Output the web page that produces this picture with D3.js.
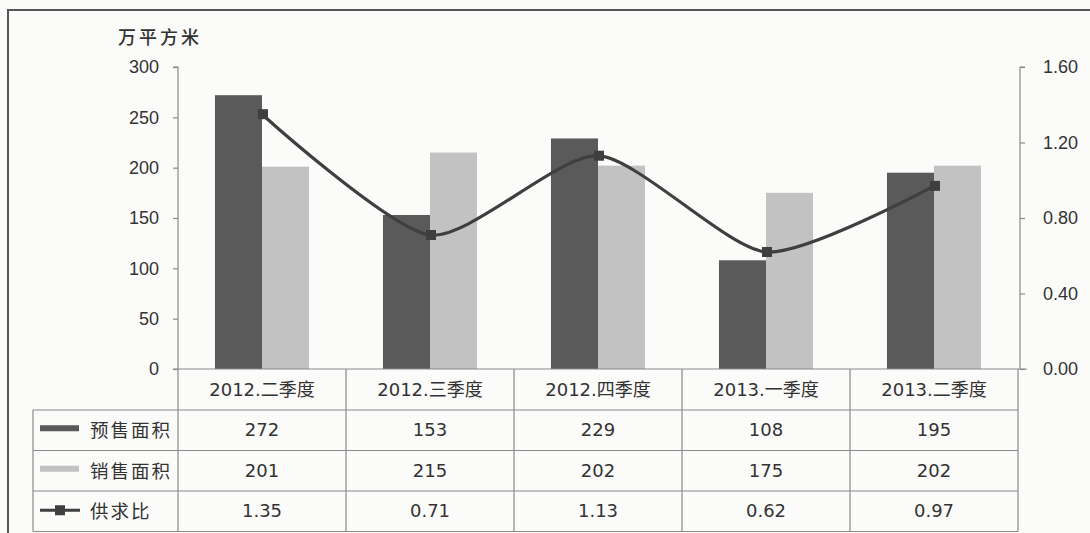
<!DOCTYPE html>
<html>
<head>
<meta charset="utf-8">
<script src="https://cdn.jsdelivr.net/npm/d3@7/dist/d3.min.js"></script>
<style>
  html, body { margin: 0; padding: 0; background: #fbfbfa; }
  svg { display: block; font-family: "DejaVu Sans", "Noto Sans CJK SC", sans-serif; }
</style>
</head>
<body>
<svg id="chart" width="1090" height="533"></svg>
<script>
// Quarterly presale vs. sales area (万平方米) and supply/demand ratio
const categories = ["2012.二季度", "2012.三季度", "2012.四季度", "2013.一季度", "2013.二季度"];
const presaleArea = [272, 153, 229, 108, 195];
const salesArea = [201, 215, 202, 175, 202];
const supplyRatio = [1.35, 0.71, 1.13, 0.62, 0.97];
const leftTicks = [0, 50, 100, 150, 200, 250, 300];
const rightTicks = [0, 0.4, 0.8, 1.2, 1.6];
const seriesNames = ["预售面积", "销售面积", "供求比"];

const darkGray = "#5a5a5a";
const lightGray = "#c2c2c2";
const lineColor = "#3f3f3f";
const textColor = "#333";
const ruleColor = "#8a8a8a";

const svg = d3.select("#chart");
const plot = { left: 178, right: 1018, top: 67, bottom: 369 };

// outer frame
svg.append("path")
  .attr("d", "M8,533 L8,10 L1090,10")
  .attr("fill", "none").attr("stroke", "#555").attr("stroke-width", 2);

const x = d3.scaleBand().domain(categories).range([plot.left, plot.right]);
const xInner = d3.scaleBand().domain(["presale", "sales"])
  .range([x.bandwidth() * 0.22, x.bandwidth() * 0.78]);
const yL = d3.scaleLinear().domain([0, 300]).range([plot.bottom, plot.top]);
const yR = d3.scaleLinear().domain([0, 1.6]).range([plot.bottom, plot.top]);

// bars
const groups = svg.append("g").selectAll("g").data(categories).join("g")
  .attr("transform", d => `translate(${x(d)},0)`);
groups.append("rect")
  .attr("x", xInner("presale")).attr("width", xInner.bandwidth())
  .attr("y", (d, i) => yL(presaleArea[i]))
  .attr("height", (d, i) => yL(0) - yL(presaleArea[i]))
  .attr("fill", darkGray);
groups.append("rect")
  .attr("x", xInner("sales")).attr("width", xInner.bandwidth())
  .attr("y", (d, i) => yL(salesArea[i]))
  .attr("height", (d, i) => yL(0) - yL(salesArea[i]))
  .attr("fill", lightGray);

// left axis
const axL = svg.append("g").attr("transform", `translate(${plot.left},0)`)
  .call(d3.axisLeft(yL).tickValues(leftTicks).tickSize(5).tickPadding(14));
// right axis
const axR = svg.append("g").attr("transform", `translate(${plot.right + 2},0)`)
  .call(d3.axisRight(yR).tickValues(rightTicks).tickSize(5).tickPadding(18).tickFormat(d3.format(".2f")));
[axL, axR].forEach(ax => {
  ax.select(".domain").attr("stroke", ruleColor).attr("stroke-width", 1.2);
  ax.selectAll(".tick line").attr("stroke", ruleColor).attr("stroke-width", 1.2);
  ax.selectAll(".tick text").attr("fill", textColor).attr("font-size", 18);
});
axL.select(".domain").attr("d", `M-5,${plot.top}H0V${plot.bottom}`);
axR.select(".domain").attr("d", `M5,${plot.top}H0V${plot.bottom}`);

// baseline
svg.append("line")
  .attr("x1", plot.left - 5).attr("x2", plot.right + 9)
  .attr("y1", plot.bottom).attr("y2", plot.bottom)
  .attr("stroke", ruleColor).attr("stroke-width", 1.2);

// axis title
svg.append("text").attr("x", 118).attr("y", 44)
  .attr("font-size", 18).attr("font-weight", 500).attr("letter-spacing", 3).attr("fill", textColor)
  .attr("font-family", "Noto Sans CJK SC").text("万平方米");

// ratio line
const cx = c => x(c) + x.bandwidth() / 2;
const line = d3.line().x((d, i) => cx(categories[i])).y(d => yR(d))
  .curve(d3.curveCardinal.tension(0.3));
svg.append("path").datum(supplyRatio)
  .attr("d", line).attr("fill", "none")
  .attr("stroke", lineColor).attr("stroke-width", 3.2);
svg.append("g").selectAll("rect").data(supplyRatio).join("rect")
  .attr("x", (d, i) => cx(categories[i]) - 4)
  .attr("y", d => yR(d) - 5)
  .attr("width", 10).attr("height", 10)
  .attr("fill", lineColor);

// data table
const table = { left: 33, catBottom: 410, rowH: 40.5 };
const rows = [presaleArea, salesArea, supplyRatio.map(d => d3.format(".2f")(d))];
const tg = svg.append("g").attr("stroke", ruleColor).attr("stroke-width", 1.2);
// category row verticals
x.domain().concat([null]).forEach(c => {
  const xx = c === null ? plot.right : x(c);
  tg.append("line").attr("x1", xx).attr("x2", xx)
    .attr("y1", plot.bottom).attr("y2", table.catBottom + rows.length * table.rowH);
});
for (let r = 0; r <= rows.length; r++) {
  const yy = table.catBottom + r * table.rowH;
  tg.append("line").attr("x1", table.left).attr("x2", plot.right)
    .attr("y1", yy).attr("y2", yy);
}
tg.append("line").attr("x1", table.left).attr("x2", table.left)
  .attr("y1", table.catBottom).attr("y2", table.catBottom + rows.length * table.rowH);

// category labels
svg.append("g").selectAll("text").data(categories).join("text")
  .attr("x", d => cx(d)).attr("y", (plot.bottom + table.catBottom) / 2 + 6)
  .attr("text-anchor", "middle").attr("font-size", 18).attr("fill", textColor)
  .text(d => d);

// table values
rows.forEach((vals, r) => {
  const yMid = table.catBottom + (r + 0.5) * table.rowH;
  svg.append("g").selectAll("text").data(vals).join("text")
    .attr("x", (d, i) => cx(categories[i])).attr("y", yMid + 6)
    .attr("text-anchor", "middle").attr("font-size", 18).attr("fill", textColor)
    .text(d => d);
  svg.append("text").attr("x", 90).attr("y", yMid + 7)
    .attr("font-size", 18.5).attr("letter-spacing", 2).attr("fill", textColor)
    .attr("font-family", "Noto Sans CJK SC").text(seriesNames[r]);
});

// legend keys
const k0 = table.catBottom + 0.5 * table.rowH - 2;
svg.append("rect").attr("x", 40).attr("y", k0 - 3).attr("width", 39).attr("height", 6).attr("fill", darkGray);
const k1 = table.catBottom + 1.5 * table.rowH - 2;
svg.append("rect").attr("x", 40).attr("y", k1 - 3).attr("width", 39).attr("height", 6).attr("fill", lightGray);
const k2 = table.catBottom + 2.5 * table.rowH - 1;
svg.append("line").attr("x1", 40).attr("x2", 80).attr("y1", k2).attr("y2", k2)
  .attr("stroke", lineColor).attr("stroke-width", 3);
svg.append("rect").attr("x", 55).attr("y", k2 - 5).attr("width", 10).attr("height", 10).attr("fill", lineColor);
</script>
</body>
</html>
